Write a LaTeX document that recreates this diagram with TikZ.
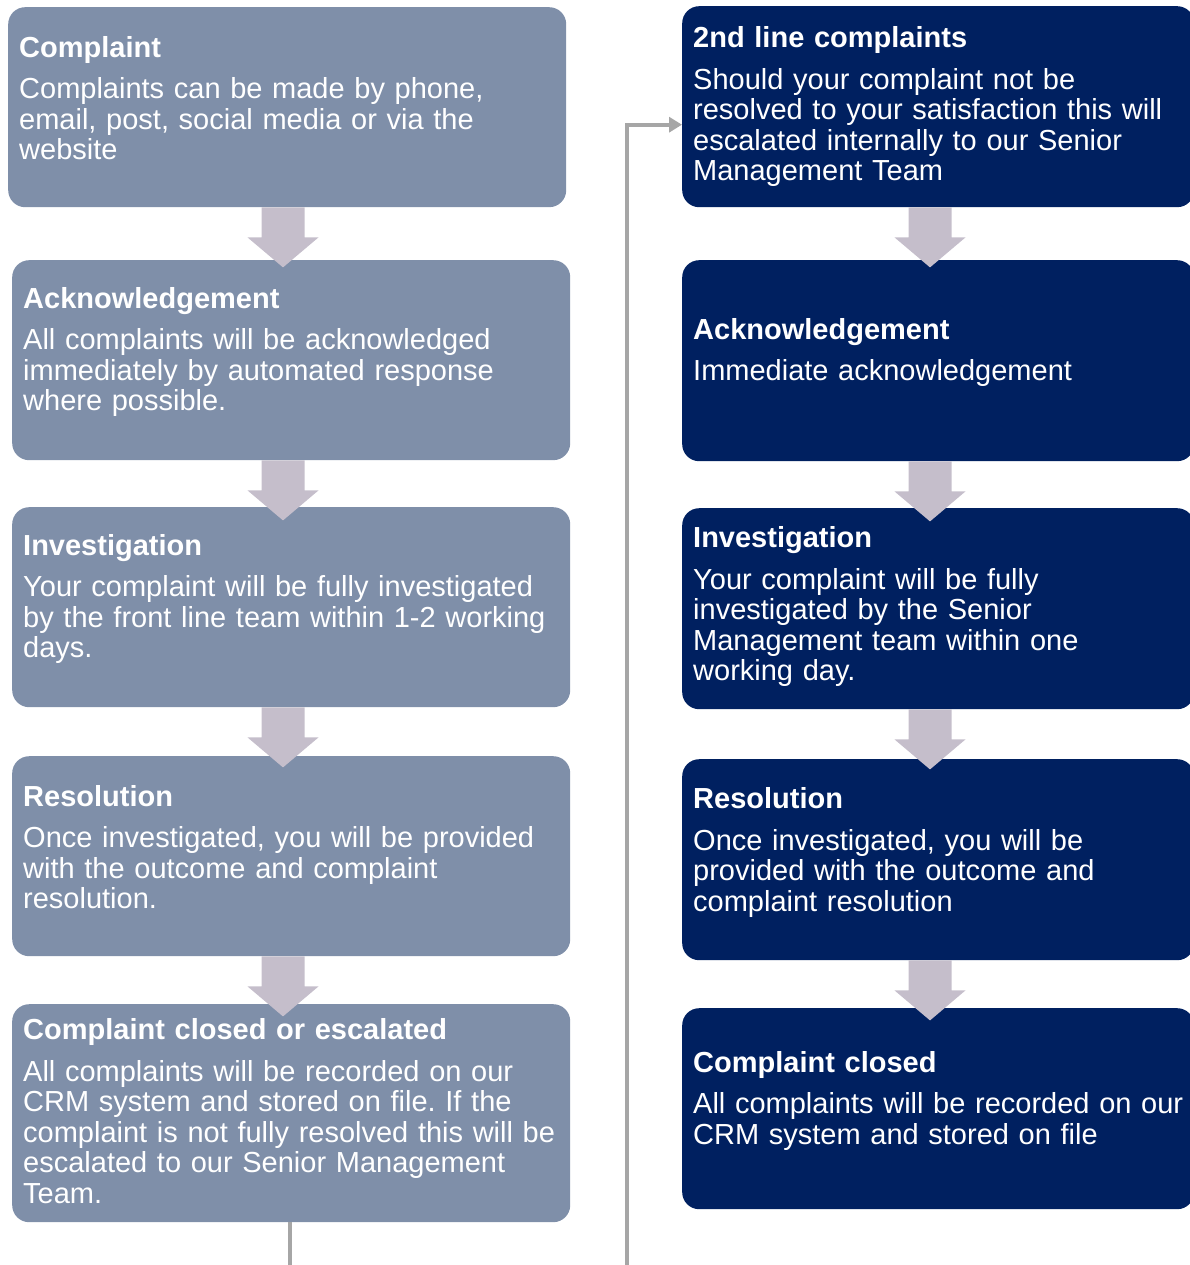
\documentclass[tikz,border=0pt]{standalone}
\usepackage{fontspec}
\setmainfont{Liberation Sans}
\frenchspacing
\usetikzlibrary{arrows.meta}
\definecolor{greyblue}{RGB}{127,143,169}
\definecolor{navyblue}{RGB}{0,32,96}
\definecolor{mauvegrey}{RGB}{197,190,203}
\definecolor{linkgrey}{RGB}{166,166,166}
% title, body, and room left under the last line
\newcommand{\stagetext}[3][22pt]{\textbf{#2}\\[11pt]#3\\[\dimexpr#1-30.5pt\relax]\mbox{}}

\begin{document}
\begin{tikzpicture}[x=1pt,y=-1pt,
    box/.style={anchor=north west,rounded corners=17pt,text=white,align=left,
      inner xsep=11pt,inner ysep=0pt,font=\fontsize{29}{30.5}\selectfont,minimum height=200pt},
    leftbox/.style={box,fill=greyblue,minimum width=558pt,text width=536pt},
    rightbox/.style={box,fill=navyblue,minimum width=512pt,text width=490pt},
    blockarrow/.style={fill=mauvegrey},
    link/.style={draw=linkgrey,line width=4pt,-{Triangle[length=13pt,width=15pt]}}]
\useasboundingbox (0,0) rectangle (1189,1265);

% first line
\node[leftbox] (l1) at (8,7) {\stagetext[18pt]{Complaint}{Complaints can be made by phone,\\ email, post, social media or via the\\ website}};
\node[leftbox] (l2) at (12,260) {\stagetext{Acknowledgement}{All complaints will be acknowledged\\ immediately by automated response\\ where possible.}};
\node[leftbox] (l3) at (12,507) {\stagetext{Investigation}{Your complaint will be fully investigated\\ by the front line team within 1-2 working\\ days.}};
\node[leftbox] (l4) at (12,756) {\stagetext[18pt]{Resolution}{Once investigated, you will be provided\\ with the outcome and complaint\\ resolution.}};
\node[leftbox,minimum height=218pt] (l5) at (12,1004) {\stagetext[4pt]{Complaint closed or escalated}{All complaints will be recorded on our\\ CRM system and stored on file. If the\\ complaint is not fully resolved this will be\\ escalated to our Senior Management\\ Team.}};

% second line
\node[rightbox,minimum height=201pt] (r1) at (682,6) {\stagetext[6pt]{2nd line complaints}{Should your complaint not be\\ resolved to your satisfaction this will\\ escalated internally to our Senior\\ Management Team}};
\node[rightbox,minimum height=201pt] (r2) at (682,260) {\stagetext{Acknowledgement}{Immediate acknowledgement}};
\node[rightbox,minimum height=201pt] (r3) at (682,508) {\stagetext[10pt]{Investigation}{Your complaint will be fully\\ investigated by the Senior\\ Management team within one\\ working day.}};
\node[rightbox,minimum height=201pt] (r4) at (682,759) {\stagetext[20pt]{Resolution}{Once investigated, you will be\\ provided with the outcome and\\ complaint resolution}};
\node[rightbox,minimum height=201pt] (r5) at (682,1008) {\stagetext{Complaint closed}{All complaints will be recorded on our\\ CRM system and stored on file}};

% block arrows
\coordinate (lx) at (283,0);
\coordinate (rx) at (930,0);
\foreach \a in {l1,l2,l3,l4}
  \fill[blockarrow] (\a.south -| lx) ++(-21.5,0) -- ++(0,30) -- ++(-14,0) -- ++(35.5,30)
    -- ++(35.5,-30) -- ++(-14,0) -- ++(0,-30) -- cycle;
\foreach \a in {r1,r2,r3,r4}
  \fill[blockarrow] (\a.south -| rx) ++(-21.5,0) -- ++(0,30) -- ++(-14,0) -- ++(35.5,30)
    -- ++(35.5,-30) -- ++(-14,0) -- ++(0,-30) -- cycle;

% escalation link
\coordinate (down) at (290,1300);
\coordinate (up) at (627,1300);
\draw[link] (l5.south -| down) -- (down) -- (up) |- ([yshift=-18pt]r1.west);
\end{tikzpicture}
\end{document}
